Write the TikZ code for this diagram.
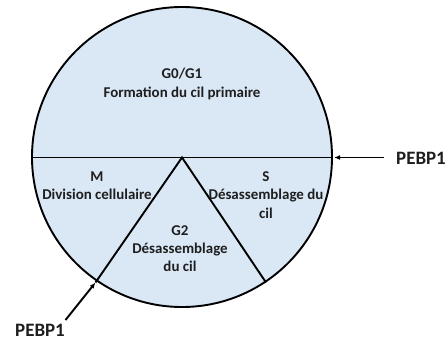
\documentclass[tikz,border=0pt]{standalone}
\usepackage{fontspec}
\setmainfont{Carlito}
\usetikzlibrary{arrows.meta}
\definecolor{phasefill}{RGB}{218,231,245}
\definecolor{txt}{RGB}{30,30,30}
\tikzset{
  lbl/.style={font=\bfseries\fontsize{15}{18.3}\selectfont, text=txt, align=center, inner sep=0pt},
  big/.style={font=\bfseries\fontsize{19}{22}\selectfont, text=txt, inner sep=0pt},
  divider/.style={line width=1.9bp, black},
  pointer/.style={line width=1.9bp, black, -{Latex[length=6bp,width=5bp]}},
}
\begin{document}
\begin{tikzpicture}[x=1bp,y=-1bp]
\useasboundingbox (0,0) rectangle (446,340);
\coordinate (c) at (182,157);
\fill[phasefill] (c) circle[radius=150];
\coordinate (L) at (32,157.5);
\coordinate (R) at (332,157.5);
\coordinate (apex) at (182,157.5);
\coordinate (bl) at (95.5,282.5);
\coordinate (br) at (266,282.5);
\draw[divider] (L) -- (R);
\draw[divider] (bl) -- (apex) -- (br);
\draw[line width=1.9bp] (c) circle[radius=150];
% labels
\node[lbl] (g0) at (182,84) {G0/G1\\Formation du cil primaire};
\node[lbl] (m) at (97,186) {M\\Division cellulaire};
\node[lbl] (s) at (266,195) {S\\Désassemblage du\\cil};
\node[lbl] (g2) at (180,248.5) {G2\\Désassemblage\\du cil};
% PEBP1
\node[big, anchor=east] (p1) at (446,158) {PEBP1};
\coordinate (p1s) at (384,157.5);
\coordinate (p1e) at (334,157.5);
\draw[pointer] (p1s) -- (p1e);
\node[big] (p2) at (40,330) {PEBP1};
\coordinate (p2s) at (65.5,320);
\draw[pointer] (p2s) -- (bl);
\end{tikzpicture}
\end{document}
